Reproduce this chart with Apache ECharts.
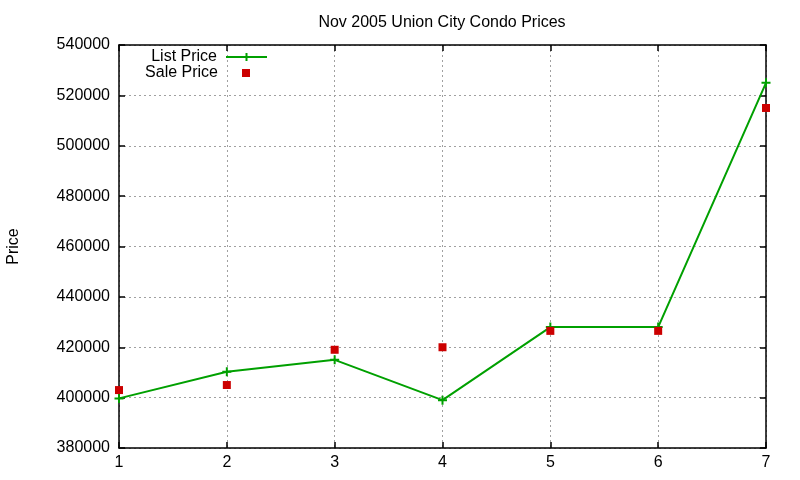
<!DOCTYPE html>
<html>
<head>
<meta charset="utf-8">
<script src="https://cdn.jsdelivr.net/npm/echarts@6/dist/echarts.min.js"></script>
<style>html,body{margin:0;padding:0;background:#fff}#c{width:800px;height:480px}</style>
</head>
<body>
<div id="c"></div>
<script>
var titleText = 'Nov 2005 Union City Condo Prices';
var yName = 'Price';
var xValues = [1, 2, 3, 4, 5, 6, 7];
var listPrice = [399700, 410300, 415000, 399000, 428000, 428000, 525000];
var salePrice = [403000, 405000, 419000, 420000, 426500, 426500, 515000];

var FONT = '"Liberation Sans", Arial, sans-serif';
var plusPath = 'path://M0,4.5H9M4.5,0V9';
var chart = echarts.init(document.getElementById('c'), null, {renderer: 'canvas'});

var listData = xValues.map(function (x, i) { return [x, listPrice[i]]; });
var saleData = xValues.map(function (x, i) { return [x, salePrice[i]]; });

var gridLine = {show: true, lineStyle: {color: '#a0a0a0', type: [2, 3], width: 1}};
var axisL = {show: true, lineStyle: {color: '#000', width: 1.5}};
var tickIn = {show: true, inside: true, length: 6, lineStyle: {color: '#000', width: 1.5}};

chart.setOption({
  animation: false,
  backgroundColor: '#fff',
  textStyle: {fontFamily: FONT},
  title: {
    text: titleText, left: 437, top: 10, textAlign: 'center',
    textStyle: {fontFamily: FONT, fontSize: 16, fontWeight: 'normal', color: '#000'}
  },
  grid: {left: 119, right: 34, top: 45, bottom: 32, containLabel: false, outerBoundsMode: 'none'},
  legend: [
    {
      data: ['List Price'], orient: 'vertical', align: 'right', padding: 0,
      right: 532, top: 49, itemWidth: 41, itemHeight: 10,
      textStyle: {fontFamily: FONT, fontSize: 16, color: '#000', padding: [0, 4, 0, 0]}
    },
    {
      data: ['Sale Price'], orient: 'vertical', align: 'right', padding: 0,
      right: 550, top: 65, itemWidth: 8, itemHeight: 8,
      textStyle: {fontFamily: FONT, fontSize: 16, color: '#000', padding: [0, 19, 0, 0]}
    }
  ],
  xAxis: [
    {
      type: 'value', min: 1, max: 7, interval: 1, position: 'bottom',
      axisLine: axisL, axisTick: tickIn, splitLine: gridLine,
      axisLabel: {fontFamily: FONT, fontSize: 16, color: '#000', margin: 7}
    },
    {
      type: 'value', min: 1, max: 7, interval: 1, position: 'top',
      axisLine: axisL, axisTick: tickIn, splitLine: {show: false},
      axisLabel: {show: false}
    }
  ],
  yAxis: [
    {
      type: 'value', min: 380000, max: 540000, interval: 20000, position: 'left',
      name: yName, nameLocation: 'middle', nameGap: 97, nameRotate: 90,
      nameTextStyle: {fontFamily: FONT, fontSize: 16, color: '#000'},
      axisLine: axisL, axisTick: tickIn, splitLine: gridLine,
      axisLabel: {fontFamily: FONT, fontSize: 16, color: '#000', margin: 9,
        formatter: function (v) { return String(v); }}
    },
    {
      type: 'value', min: 380000, max: 540000, interval: 20000, position: 'right',
      axisLine: axisL, axisTick: tickIn, splitLine: {show: false},
      axisLabel: {show: false}
    }
  ],
  series: [
    {
      name: 'List Price', type: 'line', data: listData,
      xAxisIndex: 0, yAxisIndex: 0,
      symbol: plusPath, symbolSize: 9, showAllSymbol: true,
      lineStyle: {color: '#00a000', width: 2},
      itemStyle: {color: '#00a000', borderColor: '#00a000', borderWidth: 2},
      z: 3
    },
    {
      name: 'Sale Price', type: 'scatter', data: saleData,
      xAxisIndex: 0, yAxisIndex: 0,
      symbol: 'rect', symbolSize: 8,
      itemStyle: {color: '#cc0000', opacity: 1},
      z: 4
    }
  ]
});
</script>
</body>
</html>
